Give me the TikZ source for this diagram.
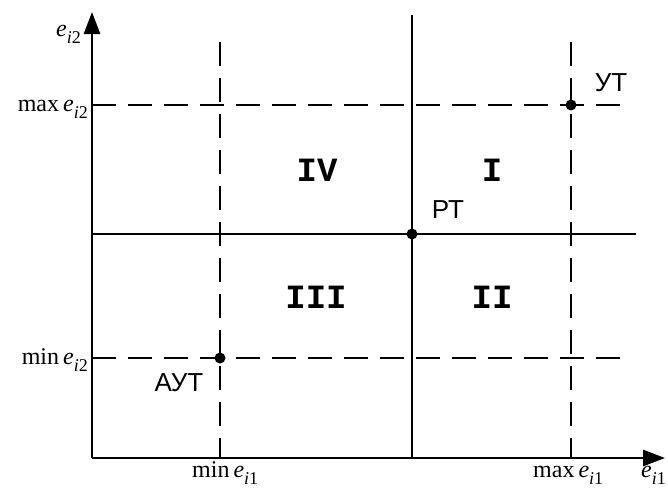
\documentclass[tikz,border=0pt]{standalone}
\usepackage{fontspec}
\setmainfont{Liberation Serif}
\newfontfamily\arialfont{Liberation Sans}
\newfontfamily\courfont{Liberation Mono}
\usetikzlibrary{arrows.meta}
\newcommand{\ev}[1]{\textit{e}\raisebox{-0.3em}{\fontsize{18}{18}\selectfont\textit{i}#1}}
\begin{document}
\begin{tikzpicture}[x=1pt,y=-1pt,
  axis/.style={line width=2.8pt,-{Triangle[length=22pt,width=16pt]}},
  solidline/.style={line width=1.2pt},
  dashline/.style={line width=1.2pt,dash pattern=on 24pt off 12pt},
  dot/.style={circle,fill=black,inner sep=0pt,minimum size=11pt},
  mathlbl/.style={font=\fontsize{24}{24}\selectfont,inner sep=0pt},
  cyr/.style={font=\arialfont\fontsize{26}{26}\selectfont,inner sep=0pt},
  roman/.style={font=\courfont\bfseries\fontsize{34}{34}\selectfont,inner sep=0pt}]
\useasboundingbox (0,0) rectangle (668,490);
% coordinates
\coordinate (O) at (92,458);
\coordinate (ytip) at (92,12);
\coordinate (xtip) at (665,458);
\coordinate (hmaxL) at (92,105);
\coordinate (hmaxR) at (625,105);
\coordinate (hmidL) at (92,234);
\coordinate (hmidR) at (636,234);
\coordinate (hminL) at (92,358);
\coordinate (hminR) at (625,358);
\coordinate (vminT) at (220,42);
\coordinate (vminB) at (220,458);
\coordinate (vmidT) at (412,15);
\coordinate (vmidB) at (412,458);
\coordinate (vmaxT) at (571,42);
\coordinate (vmaxB) at (571,458);
% lines
\draw[dashline] (hmaxL) -- (hmaxR);
\draw[dashline] (hminL) -- (hminR);
\draw[dashline] (vminT) -- (vminB);
\draw[dashline] (vmaxT) -- (vmaxB);
\draw[solidline] (hmidL) -- (hmidR);
\draw[solidline] (vmidT) -- (vmidB);
\draw[axis] (O) -- (ytip);
\draw[axis] (O) -- (xtip);
% points
\node[dot] (ut) at (571,105) {};
\node[dot] (rt) at (412,234) {};
\node[dot] (aut) at (220,358) {};
% labels
\node[mathlbl,anchor=base east] (ly) at (81,36) {\ev{2}};
\node[mathlbl,anchor=base east] (lmax2) at (88,111) {max\,\ev{2}};
\node[mathlbl,anchor=base east] (lmin2) at (88,364) {min\,\ev{2}};
\node[mathlbl,anchor=base west] (lmin1) at (192,477) {min\,\ev{1}};
\node[mathlbl,anchor=base west] (lmax1) at (533,477) {max\,\ev{1}};
\node[mathlbl,anchor=base west] (lx) at (641,477) {\ev{1}};
\node[cyr] (tut) at (611,83) {УТ};
\node[cyr] (trt) at (448,210) {РТ};
\node[cyr] (taut) at (179,383) {АУТ};
\node[roman] (q4) at (317,170) {IV};
\node[roman] (q1) at (492,170) {I};
\node[roman] (q3) at (316,297) {III};
\node[roman] (q2) at (492,297) {II};
\end{tikzpicture}
\end{document}
